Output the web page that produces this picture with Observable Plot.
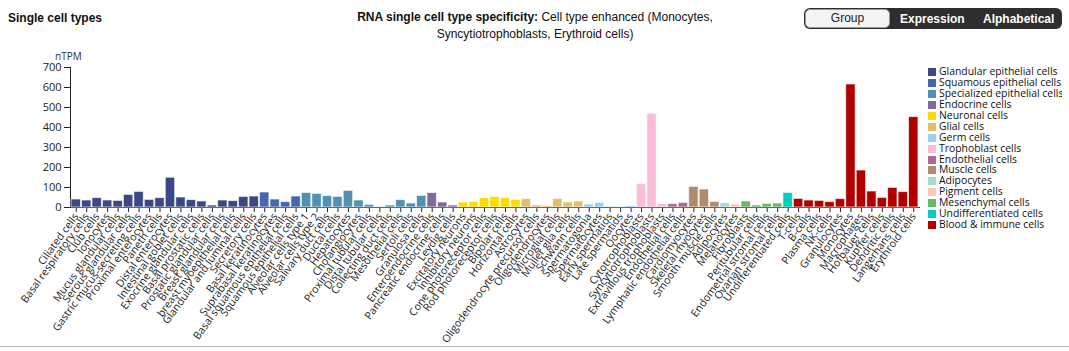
<!DOCTYPE html>
<html><head><meta charset="utf-8">
<script src="https://cdn.jsdelivr.net/npm/d3@7"></script>
<script src="https://cdn.jsdelivr.net/npm/@observablehq/plot@0.6"></script>
<style>
body{margin:0;background:#fff;}
#wrap{position:relative;width:1069px;height:351px;overflow:hidden;background:#fff;}
#chart{position:absolute;left:0;top:0;}
.hdr{position:absolute;font-family:"Liberation Sans",Arial,sans-serif;font-size:12px;color:#111;}
#title{left:335px;top:9px;width:400px;text-align:center;line-height:17px;}
#btns{position:absolute;left:804px;top:8px;width:258px;height:21px;background:#2e2e2e;border-radius:6px;font-family:"Liberation Sans",Arial,sans-serif;font-weight:bold;font-size:12px;color:#fff;}
#btns span{position:absolute;top:4px;}
#grp{position:absolute;left:1px;top:1px;width:83px;height:17px;background:#f4f4f4;border:1px solid #999;border-radius:5px;color:#222;text-align:center;line-height:17px;font-weight:normal;}
#legend{position:absolute;left:928px;top:66px;width:134px;overflow:hidden;white-space:nowrap;font-family:"Open Sans",sans-serif;font-size:10.4px;color:#111;}
#legend div{height:10.95px;line-height:11px;}
#legend i{display:inline-block;width:8px;height:8px;margin-right:3px;vertical-align:-1px;}
#ylab{position:absolute;left:55px;top:49px;font-family:"Open Sans",sans-serif;font-size:10px;color:#333;}
#bottomline{position:absolute;left:0;top:346px;width:1069px;height:1px;background:#b5b5b5;}
g[aria-label="y-axis tick label"]{font-size:11px;}
</style></head><body>
<div id="wrap">
  <div id="chart"></div>
  <div class="hdr" style="left:8px;top:11px;font-weight:bold;">Single cell types</div>
  <div class="hdr" id="title"><b>RNA single cell type specificity:</b> Cell type enhanced (Monocytes, Syncytiotrophoblasts, Erythroid cells)</div>
  <div id="btns"><div id="grp">Group</div><span style="left:96px">Expression</span><span style="left:179px">Alphabetical</span></div>
  <div id="ylab">nTPM</div>
  <div id="legend"></div>
  <div id="bottomline"></div>
</div>
<script>
const cellTypes = ["Ciliated cells","Basal respiratory cells","Club cells","Ionocytes","Mucus glandular cells","Serous glandular cells","Gastric mucus-secreting cells","Proximal enterocytes","Paneth cells","Distal enterocytes","Intestinal goblet cells","Exocrine glandular cells","Basal prostatic cells","Prostatic glandular cells","Breast glandular cells","breast myoepithelial cells","Glandular and luminal cells","Secretory cells","Basal keratinocytes","Suprabasal keratinocytes","Basal squamous epithelial cells","Squamous epithelial cells","Alveolar cells type 1","Alveolar cells type 2","Salivary duct cells","Ductal cells","Hepatocytes","Cholangiocytes","Proximal tubular cells","Distal tubular cells","Collecting duct cells","Mesothelial cells","Sertoli cells","Granulosa cells","Enteroendocrine cells","Pancreatic endocrine cells","Leydig cells","Excitatory neurons","Inhibitory neurons","Cone photoreceptor cells","Rod photoreceptor cells","Bipolar cells","Horizontal cells","Astrocytes","Oligodendrocyte precursor cells","Oligodendrocytes","Microglial cells","Muller glia cells","Schwann cells","Spermatogonia","Spermatocytes","Early spermatids","Late spermatids","Oocytes","Cytotrophoblasts","Syncytiotrophoblasts","Extravillous trophoblasts","Endothelial cells","Lymphatic endothelial cells","Cardiomyocytes","Skeletal myocytes","Smooth muscle cells","Adipocytes","Melanocytes","Fibroblasts","Peritubular cells","Endometrial stromal cells","Ovarian stromal cells","Undifferentiated cells","T-cells","B-cells","Plasma cells","NK-cells","Granulocytes","Monocytes","Macrophages","Hofbauer cells","Kupffer cells","Dendritic cells","Langerhans cells","Erythroid cells"];

const groups = ["Glandular epithelial cells","Squamous epithelial cells","Specialized epithelial cells","Endocrine cells","Neuronal cells","Glial cells","Germ cells","Trophoblast cells","Endothelial cells","Muscle cells","Adipocytes","Pigment cells","Mesenchymal cells","Undifferentiated cells","Blood & immune cells"];
const groupColors = ["#3c4785","#4569b1","#5291b2","#7f6a9c","#ffdc00","#e2bd6b","#95d3f2","#f8bed8","#ae6792","#b28b6f","#a7dacf","#ffc9b1","#66ba66","#00cdbb","#b10000"];

// group of each cell type (same order as cellTypes)
const cellGroups = [
 ...Array(18).fill("Glandular epithelial cells"),
 ...Array(4).fill("Squamous epithelial cells"),
 ...Array(12).fill("Specialized epithelial cells"),
 ...Array(3).fill("Endocrine cells"),
 ...Array(6).fill("Neuronal cells"),
 ...Array(6).fill("Glial cells"),
 ...Array(5).fill("Germ cells"),
 ...Array(3).fill("Trophoblast cells"),
 ...Array(2).fill("Endothelial cells"),
 ...Array(3).fill("Muscle cells"),
 "Adipocytes",
 "Pigment cells",
 ...Array(4).fill("Mesenchymal cells"),
 "Undifferentiated cells",
 ...Array(12).fill("Blood & immune cells")
];

const values = [40,35,47,35,33,63,78,38,47,149,50,37,30,10,35,32,53,55,75,40,27,55,73,68,57,53,83,35,13,1,10,37,20,58,72,25,10,25,28,47,53,47,38,42,10,8,43,25,30,15,23,5,2,8,117,469,18,17,23,103,90,28,22,15,30,10,18,20,73,43,35,33,27,42,615,185,80,48,98,77,452];

const yTicks = [0,100,200,300,400,500,600,700];

const data = cellTypes.map((name,i)=>({name, group: cellGroups[i], value: values[i]}));

const plot = Plot.plot({
  width:1069, height:351,
  marginLeft:70, marginRight:150, marginTop:67, marginBottom:144,
  style:{fontFamily:"'Open Sans',sans-serif", fontSize:"10.6px", background:"transparent", color:"#222"},
  x:{domain:cellTypes, padding:0.1, tickRotate:-54, tickSize:5, tickPadding:2, label:null, line:true},
  y:{domain:[0,700], ticks:yTicks, label:null, line:true, tickSize:6},
  color:{domain:groups, range:groupColors},
  marks:[
    Plot.barY(data,{x:"name", y:"value", fill:"group", stroke:"white", strokeOpacity:0.65, strokeWidth:1})
  ]
});
document.getElementById("chart").appendChild(plot);

const leg = document.getElementById("legend");
groups.forEach((g,i)=>{
  const d = document.createElement("div");
  const sw = document.createElement("i");
  sw.style.background = groupColors[i];
  d.appendChild(sw);
  d.appendChild(document.createTextNode(g));
  leg.appendChild(d);
});
</script>
</body></html>
